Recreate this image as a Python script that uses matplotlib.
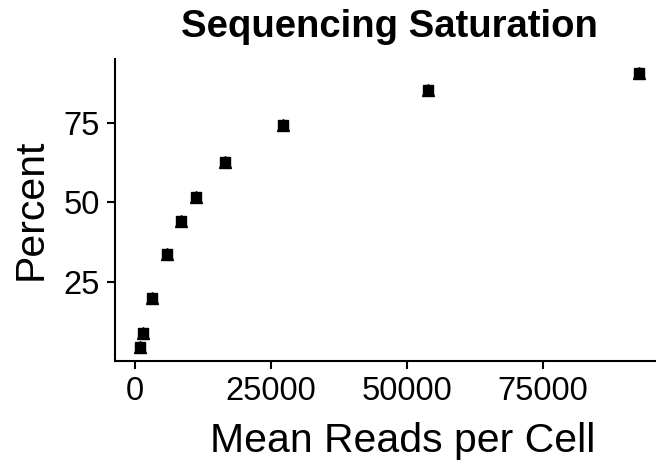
import matplotlib as mpl
mpl.use('Agg')
import matplotlib.pyplot as plt

# mean reads per cell vs sequencing saturation (%)
mean_reads = [920, 1530, 3070, 5880, 8460, 11210, 16540, 27260, 53900, 92700]
saturation = [4.6, 8.9, 19.9, 33.8, 44.2, 51.7, 62.7, 74.3, 85.3, 90.7]

xticks = [0, 25000, 50000, 75000]
yticks = [25, 50, 75]

plt.rcParams['font.family'] = ['Liberation Sans', 'DejaVu Sans']

fig = plt.figure(figsize=(6.56, 4.62), dpi=100)
ax = fig.add_axes([115 / 656, 101.5 / 462, 549 / 656, 301.5 / 462])

ax.plot(mean_reads, saturation, 's', color='black', ms=7.5, zorder=3)
ax.plot(mean_reads, saturation, '^', color='black', ms=8.5, zorder=3)

xr = max(mean_reads) - min(mean_reads)
yr = max(saturation) - min(saturation)
ax.set_xlim(min(mean_reads) - 0.05 * xr, max(mean_reads) + 0.05 * xr)
ax.set_ylim(min(saturation) - 0.05 * yr, max(saturation) + 0.05 * yr)

ax.set_xticks(xticks)
ax.set_yticks(yticks)
ax.tick_params(labelsize=23.5, width=1.5, length=5.5, color='black', labelcolor='black', pad=5.5)

for side in ['top', 'right']:
    ax.spines[side].set_visible(False)
for side in ['left', 'bottom']:
    ax.spines[side].set_linewidth(1.5)

ax.set_xlabel("Mean Reads per Cell", fontsize=29.5)
ax.xaxis.set_label_coords(403 / 656, 0, transform=fig.transFigure)
ax.xaxis.label.set_verticalalignment('baseline')
ax.xaxis.label.set_y(10 / 462)
ax.set_ylabel("Percent", fontsize=29.5)
ax.yaxis.set_label_coords(12 / 656, (462 - 209) / 462, transform=fig.transFigure)
ax.yaxis.label.set_verticalalignment('top')
ax.set_title("Sequencing Saturation", fontsize=27.5, fontweight='bold', pad=16)

plt.savefig("out.png", dpi=100)
